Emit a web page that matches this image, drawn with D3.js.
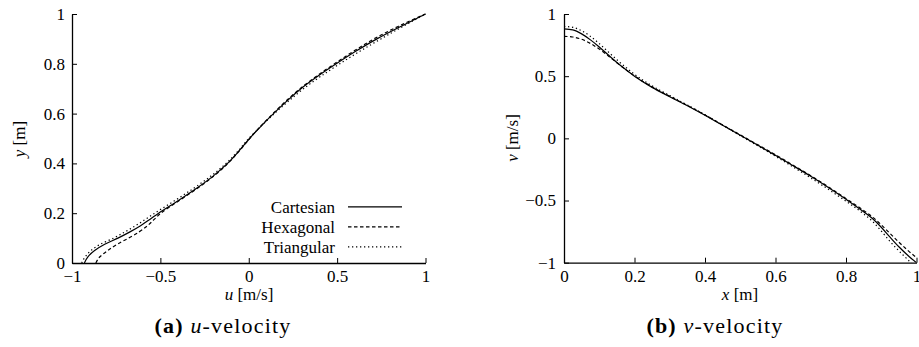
<!DOCTYPE html>
<html>
<head>
<meta charset="utf-8">
<script src="https://cdn.jsdelivr.net/npm/d3@7"></script>
</head>
<body style="margin:0">
<div id="wrap" style="position:relative;width:919px;height:347px">
  <svg id="chart" width="919" height="347" font-family="Liberation Serif" style="display:block;position:absolute;left:0;top:0"></svg>
  <div style="position:absolute;left:103px;top:315px;width:240px;text-align:center;font-family:'Liberation Serif';font-size:22px;line-height:22px;letter-spacing:1.2px;white-space:nowrap"><b>(a)</b>&nbsp;<i>u</i>-velocity</div>
  <div style="position:absolute;left:595px;top:315px;width:240px;text-align:center;font-family:'Liberation Serif';font-size:22px;line-height:22px;letter-spacing:1.2px;white-space:nowrap"><b>(b)</b>&nbsp;<i>v</i>-velocity</div>
</div>
<script>
// ---- u-velocity along the vertical centreline (u as a function of y) ----
const yPos = [0, 0.025, 0.05, 0.075, 0.1, 0.125, 0.15, 0.175, 0.2, 0.25, 0.3, 0.35, 0.4, 0.45, 0.5,
              0.55, 0.6, 0.65, 0.7, 0.75, 0.8, 0.85, 0.9, 0.95, 1.0];
const uCartesian  = [-0.93, -0.91, -0.872, -0.815, -0.74, -0.672, -0.612, -0.56, -0.51, -0.40, -0.295, -0.20, -0.12, -0.055, 0.005,
                     0.07, 0.14, 0.215, 0.295, 0.39, 0.495, 0.605, 0.725, 0.86, 1.0];
const uHexagonal  = [-0.865, -0.842, -0.798, -0.745, -0.68, -0.62, -0.572, -0.535, -0.497, -0.395, -0.29, -0.197, -0.118, -0.053, 0.005,
                     0.068, 0.137, 0.21, 0.29, 0.383, 0.485, 0.592, 0.708, 0.845, 1.0];
const uTriangular = [-0.945, -0.925, -0.893, -0.84, -0.765, -0.70, -0.64, -0.585, -0.532, -0.42, -0.312, -0.213, -0.128, -0.06, 0.0,
                     0.07, 0.145, 0.225, 0.31, 0.408, 0.515, 0.628, 0.748, 0.872, 1.0];

// ---- v-velocity along the horizontal centreline (v as a function of x) ----
const xPos = [0, 0.025, 0.05, 0.075, 0.1, 0.125, 0.15, 0.175, 0.2, 0.25, 0.3, 0.35, 0.4, 0.45, 0.5,
              0.55, 0.6, 0.65, 0.7, 0.75, 0.8, 0.85, 0.875, 0.9, 0.925, 0.95, 0.975, 1.0];
const vCartesian  = [0.88, 0.872, 0.84, 0.792, 0.735, 0.672, 0.61, 0.553, 0.50, 0.41, 0.335, 0.262, 0.185, 0.105, 0.025,
                     -0.055, -0.137, -0.22, -0.305, -0.395, -0.49, -0.59, -0.645, -0.715, -0.795, -0.872, -0.94, -1.0];
const vHexagonal  = [0.82, 0.815, 0.797, 0.763, 0.718, 0.665, 0.608, 0.553, 0.502, 0.413, 0.338, 0.265, 0.188, 0.108, 0.028,
                     -0.052, -0.133, -0.216, -0.30, -0.39, -0.484, -0.58, -0.632, -0.695, -0.765, -0.835, -0.9, -0.96];
const vTriangular = [0.90, 0.893, 0.865, 0.82, 0.762, 0.697, 0.632, 0.572, 0.515, 0.422, 0.344, 0.268, 0.19, 0.106, 0.022,
                     -0.06, -0.144, -0.23, -0.318, -0.41, -0.505, -0.607, -0.667, -0.745, -0.83, -0.905, -0.975, -1.05];

const uTicks = [-1, -0.5, 0, 0.5, 1];
const yTicks = [0, 0.2, 0.4, 0.6, 0.8, 1];
const xTicks = [0, 0.2, 0.4, 0.6, 0.8, 1];
const vTicks = [-1, -0.5, 0, 0.5, 1];

const seriesNames = ["Cartesian", "Hexagonal", "Triangular"];
const dashes = [null, "3.5,2.5", "1.3,2.7"];

const FONT = "Liberation Serif";
const FS = 17;

const svg = d3.select("#chart");
const fmt = d => (d < 0 ? "\u2212" : "") + String(Math.abs(d));

function serif(sel, size) {
  return sel.attr("font-family", FONT).attr("font-size", size);
}

function styleAxis(g) {
  serif(g, FS);
  serif(g.selectAll("text"), FS).attr("fill", "#000");
  g.selectAll("line").attr("stroke", "#000").attr("stroke-width", 1);
  g.select(".domain").attr("stroke", "#000").attr("stroke-width", 1.3);
}

function label(sel, x, y, sym, rest, rotate) {
  const t = serif(sel.append("text"), FS).attr("text-anchor", "middle");
  if (rotate) t.attr("transform", `translate(${x},${y}) rotate(-90)`);
  else t.attr("x", x).attr("y", y);
  t.append("tspan").attr("font-style", "italic").text(sym);
  t.append("tspan").text(rest);
}

// ---------- panel (a) ----------
const ax = d3.scaleLinear().domain([-1, 1]).range([72, 425.5]);
const ay = d3.scaleLinear().domain([0, 1]).range([263, 14]);

const aPlot = svg.append("g");
aPlot.append("g").attr("transform", `translate(0,${ay(0)})`)
  .call(d3.axisBottom(ax).tickValues(uTicks).tickFormat(fmt).tickSizeInner(-5).tickSizeOuter(0).tickPadding(7))
  .call(styleAxis);
aPlot.append("g").attr("transform", `translate(${ax(-1)},0)`)
  .call(d3.axisLeft(ay).tickValues(yTicks).tickFormat(fmt).tickSizeInner(-5).tickSizeOuter(0).tickPadding(7))
  .call(styleAxis);

const lineA = d3.line().x(d => ax(d[0])).y(d => ay(d[1])).curve(d3.curveMonotoneY);
[uCartesian, uHexagonal, uTriangular].forEach((u, i) => {
  aPlot.append("path")
    .datum(yPos.map((y, k) => [u[k], y]))
    .attr("d", lineA)
    .attr("fill", "none").attr("stroke", "#000").attr("stroke-width", 1.2)
    .attr("stroke-dasharray", dashes[i]);
});

// legend
const legend = aPlot.append("g");
seriesNames.forEach((name, i) => {
  const cy = 206.8 + i * 20;
  serif(legend.append("text"), FS).attr("x", 335).attr("y", cy).attr("dy", "0.34em")
    .attr("text-anchor", "end").text(name);
  legend.append("line").attr("x1", 348).attr("x2", 402).attr("y1", cy).attr("y2", cy)
    .attr("stroke", "#000").attr("stroke-width", 1.2).attr("stroke-dasharray", dashes[i]);
});

label(aPlot, 249, 300, "u", " [m/s]", false);
label(aPlot, 25, 139, "y", " [m]", true);

// ---------- panel (b) ----------
const bx = d3.scaleLinear().domain([0, 1]).range([564, 916.5]);
const by = d3.scaleLinear().domain([-1, 1]).range([262.7, 14]);

const bPlot = svg.append("g");
bPlot.append("g").attr("transform", `translate(0,${by(-1)})`)
  .call(d3.axisBottom(bx).tickValues(xTicks).tickFormat(fmt).tickSizeInner(-5).tickSizeOuter(0).tickPadding(7))
  .call(styleAxis);
bPlot.append("g").attr("transform", `translate(${bx(0)},0)`)
  .call(d3.axisLeft(by).tickValues(vTicks).tickFormat(fmt).tickSizeInner(-5).tickSizeOuter(0).tickPadding(8))
  .call(styleAxis);

bPlot.append("clipPath").attr("id", "clipB").append("rect")
  .attr("x", bx(0)).attr("y", by(1)).attr("width", bx(1) - bx(0) + 2).attr("height", by(-1) - by(1));
const lineB = d3.line().x(d => bx(d[0])).y(d => by(d[1])).curve(d3.curveMonotoneX);
[vCartesian, vHexagonal, vTriangular].forEach((v, i) => {
  bPlot.append("path")
    .datum(xPos.map((x, k) => [x, v[k]]))
    .attr("d", lineB).attr("clip-path", "url(#clipB)")
    .attr("fill", "none").attr("stroke", "#000").attr("stroke-width", 1.2)
    .attr("stroke-dasharray", dashes[i]);
});

label(bPlot, 740, 300, "x", " [m]", false);
label(bPlot, 518, 138, "v", " [m/s]", true);
</script>
</body>
</html>
